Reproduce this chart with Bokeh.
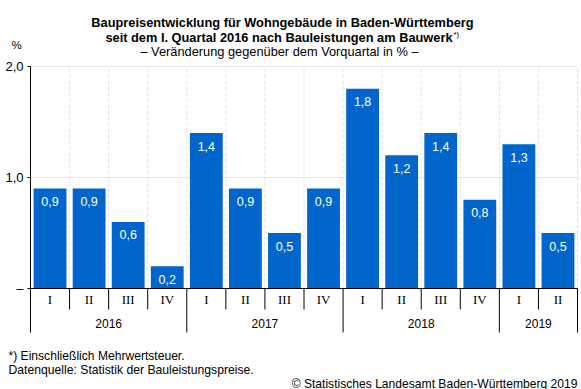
from bokeh.plotting import figure
from bokeh.models import Range1d, ColumnDataSource
from bokeh.core.properties import value
from bokeh.embed import file_html
from bokeh.resources import INLINE

quarters = ["I", "II", "III", "IV", "I", "II", "III", "IV", "I", "II", "III", "IV", "I", "II"]
years = ["2016", "2017", "2018", "2019"]
quarters_per_year = [4, 4, 4, 2]
values = [0.9, 0.9, 0.6, 0.2, 1.4, 0.9, 0.5, 0.9, 1.8, 1.2, 1.4, 0.8, 1.3, 0.5]
y_ticks = [0, 1, 2]
y_tick_labels = ["–", "1,0", "2,0"]

title1 = "Baupreisentwicklung für Wohngebäude in Baden-Württemberg"
title2 = "seit dem I. Quartal 2016 nach Bauleistungen am Bauwerk"
title2_sup = "*)"
subtitle = "– Veränderung gegenüber dem Vorquartal in % –"
unit = "%"
note1 = "*) Einschließlich Mehrwertsteuer."
note2 = "Datenquelle: Statistik der Bauleistungspreise."
copyright_txt = "© Statistisches Landesamt Baden-Württemberg 2019"

BAR = "#0066cc"
SANS = "Liberation Sans"
SERIF = "Liberation Serif"
n = len(values)

# layout (pixels): plot area left/right, y=0 and y=2 positions
W, H = 581, 389
PL, PR = 30, 577
Y0, Y2 = 288, 66
ux = (PR - PL) / n          # px per category
uy = (Y0 - Y2) / 2.0        # px per unit

def X(px):
    return (px - PL) / ux

def Y(py):
    return (Y0 - py) / uy

p = figure(width=W, height=H, output_backend="svg", toolbar_location=None,
           x_range=Range1d(X(0), X(W)), y_range=Range1d(Y(H), Y(0)),
           x_axis_location=None, y_axis_location=None,
           min_border=0, min_border_left=0, min_border_right=0,
           min_border_top=0, min_border_bottom=0)
p.outline_line_color = None
p.grid.visible = False
p.background_fill_color = "white"
p.border_fill_color = "white"

ymax = max(y_ticks)
bottom = Y(332)

# horizontal grid lines
gl = [t for t in y_ticks if t > 0]
p.segment(x0=[0] * len(gl), y0=gl, x1=[n] * len(gl), y1=gl,
          line_color="#e6e6e6", line_width=1)

# dashed vertical separators in plot area
vx = list(range(1, n + 1))
p.segment(x0=vx, y0=[0] * len(vx), x1=vx, y1=[ymax] * len(vx),
          line_color="#e4e4e4", line_dash="4 2", line_width=1)

xc = [i + 0.5 for i in range(n)]
src = ColumnDataSource(dict(x=xc, top=values,
                            lab=[f"{v:.1f}".replace(".", ",") for v in values]))
p.vbar(x="x", top="top", bottom=0, width=0.84, source=src,
       fill_color=BAR, line_color=None)
p.text(x="x", y="top", text="lab", source=src, y_offset=13,
       text_align="center", text_baseline="middle", text_color="white",
       text_font=value(SANS), text_font_size="12.5px")

# y axis
p.segment(x0=[0], y0=[bottom], x1=[0], y1=[ymax], line_color="black", line_width=1)
p.segment(x0=[X(27)] * len(y_ticks), y0=y_ticks, x1=[0] * len(y_ticks), y1=y_ticks,
          line_color="black", line_width=1)
p.text(x=[X(23)] * len(y_ticks), y=y_ticks, text=y_tick_labels, text_align="right",
       text_baseline="middle", text_font=value(SANS), text_font_size="13px",
       text_color="black")

# category axis
p.segment(x0=[0], y0=[0], x1=[n], y1=[0], line_color="black", line_width=1)
year_bounds = [0]
for q in quarters_per_year:
    year_bounds.append(year_bounds[-1] + q)
qsep = [k for k in range(1, n) if k not in year_bounds]
p.segment(x0=qsep, y0=[0] * len(qsep), x1=qsep, y1=[Y(309)] * len(qsep),
          line_color="black", line_width=1)
ysep = year_bounds[1:]
p.segment(x0=ysep, y0=[0] * len(ysep), x1=ysep, y1=[bottom] * len(ysep),
          line_color="black", line_width=1)

p.text(x=xc, y=[Y(299)] * n, text=quarters, text_align="center",
       text_baseline="middle", text_font=value(SERIF),
       text_font_size="13px", text_color="black")
ycent = [(year_bounds[i] + year_bounds[i + 1]) / 2 for i in range(len(years))]
p.text(x=ycent, y=[Y(323)] * len(years), text=years, text_align="center",
       text_baseline="middle", text_font=value(SANS),
       text_font_size="12px", text_color="black")

def lab(txt, px, py, align="center", bold=False, size="12px"):
    p.text(x=[X(px)], y=[Y(py)], text=[txt], text_align=align,
           text_baseline="middle", text_font=value(SANS),
           text_font_size=size, text_font_style="bold" if bold else "normal",
           text_color="black")

lab(title1, 282, 22, bold=True, size="12.8px")
lab(title2, 452, 37, align="right", bold=True, size="12.8px")
lab(title2_sup, 453, 34, align="left", size="8px")
lab(subtitle, 279, 51, size="12.8px")
lab(unit, 16, 44, size="11.5px")
lab(note1, 8, 355, align="left", size="12.1px")
lab(note2, 8, 369, align="left", size="12.2px")
lab(copyright_txt, 577, 383, align="right", size="12.1px")

open("out.html", "w").write(file_html(p, INLINE))
